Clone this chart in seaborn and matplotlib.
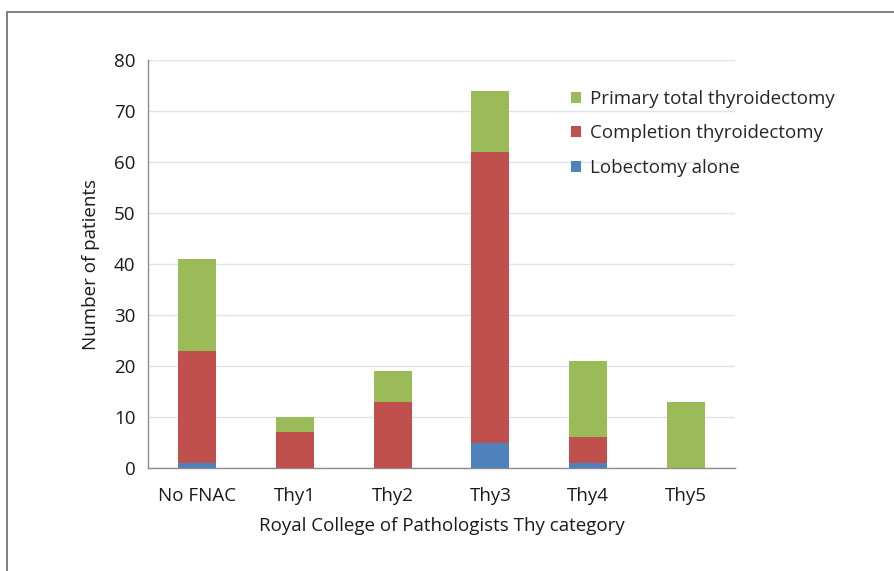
import numpy as np
import pandas as pd
import matplotlib
matplotlib.use("Agg")
import matplotlib.pyplot as plt
import seaborn as sns
from matplotlib.patches import Rectangle, Patch

categories = ["No FNAC", "Thy1", "Thy2", "Thy3", "Thy4", "Thy5"]
lobectomy = [1, 0, 0, 5, 1, 0]
completion = [22, 7, 13, 57, 5, 0]
primary = [18, 3, 6, 12, 15, 13]

series = ["Primary total thyroidectomy", "Completion thyroidectomy", "Lobectomy alone"]
colors = {"Primary total thyroidectomy": "#9BBB59",
          "Completion thyroidectomy": "#C0504D",
          "Lobectomy alone": "#4F81BD"}

df = pd.DataFrame({"cat": categories, "lob": lobectomy,
                   "comp": completion, "prim": primary})
df["top_lob"] = df["lob"]
df["top_comp"] = df["lob"] + df["comp"]
df["top_prim"] = df["top_comp"] + df["prim"]

sns.set_style("white")
plt.rcParams["font.family"] = ["Open Sans", "DejaVu Sans"]
fs = 13.5

fig = plt.figure(figsize=(8.95, 5.71), dpi=100)
ax = fig.add_axes([148 / 895, 1 - 468 / 571, (735 - 148) / 895, (468 - 60) / 571])

# figure border (partly cropped at right and bottom)
fig.patches.append(Rectangle((7 / 895, -0.5), 2, 1.5 - 12 / 571, transform=fig.transFigure,
                             fill=False, edgecolor="#6b6b6b", linewidth=1.2, zorder=0))

w = 0.39
for col, s in [("top_prim", series[0]), ("top_comp", series[1]), ("top_lob", series[2])]:
    sns.barplot(data=df, x="cat", y=col, color=colors[s], width=w,
                saturation=1, linewidth=0, ax=ax, zorder=3)

ax.set_ylim(0, 80)
ax.set_xlim(-0.5, len(categories) - 0.5)
ax.set_yticks(np.arange(0, 81, 10))
ax.yaxis.grid(True, color="#dbe3ee", linewidth=1, zorder=0)
ax.set_axisbelow(True)

for s in ["top", "right"]:
    ax.spines[s].set_visible(False)
for s in ["left", "bottom"]:
    ax.spines[s].set_color("#8c8c8c")
    ax.spines[s].set_linewidth(1)

ax.set_xticks(np.arange(len(categories)))
ax.set_xticklabels(categories)
ax.set_xticks(np.arange(-0.5, len(categories)), minor=True)
ax.tick_params(axis="x", which="major", length=0, pad=14, labelsize=fs, colors="#1a1a1a")
ax.tick_params(axis="x", which="minor", length=7, width=1, color="#8c8c8c", direction="out")
ax.tick_params(axis="y", length=6, width=1, color="#8c8c8c", direction="out", labelsize=fs,
               labelcolor="#1a1a1a", pad=3)

ax.set_xlabel("Royal College of Pathologists Thy category", fontsize=fs, color="#1a1a1a", labelpad=8)
ax.set_ylabel("Number of patients", fontsize=fs, color="#1a1a1a", labelpad=10)

handles = [Patch(facecolor=colors[s], edgecolor="none") for s in series]
ax.legend(handles, series, loc="upper left", bbox_to_anchor=(0.708, 0.945), frameon=False,
          fontsize=fs, handlelength=0.55, handleheight=0.55, handletextpad=0.45, labelspacing=0.88,
          borderaxespad=0)

fig.savefig("out.png", dpi=100)
